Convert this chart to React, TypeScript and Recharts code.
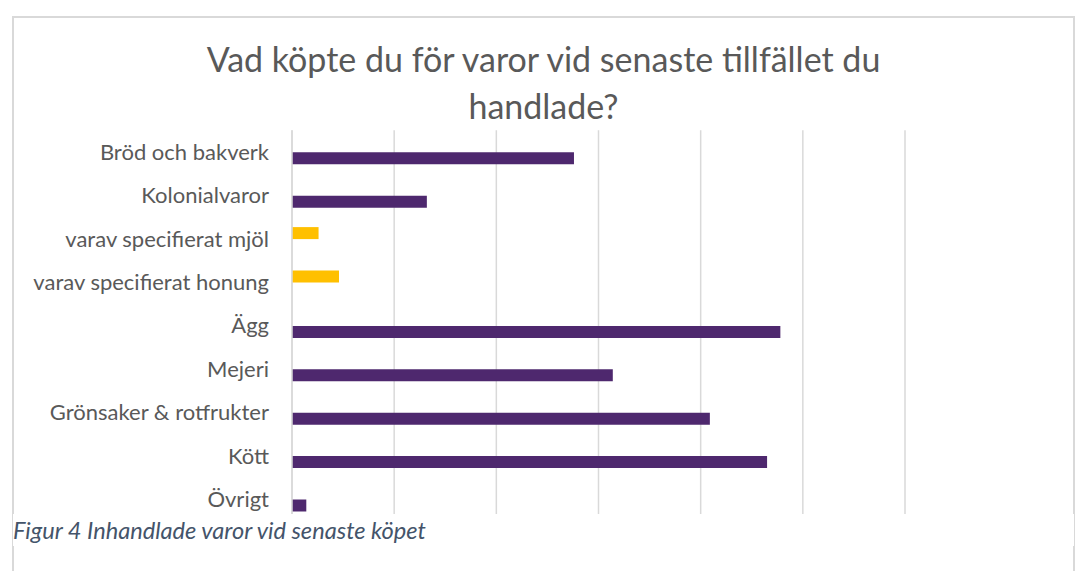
import React from 'react';
import { BarChart, Bar, XAxis, YAxis, CartesianGrid } from 'recharts';

const categories = [
  'Bröd och bakverk',
  'Kolonialvaror',
  'varav specifierat mjöl',
  'varav specifierat honung',
  'Ägg',
  'Mejeri',
  'Grönsaker & rotfrukter',
  'Kött',
  'Övrigt',
];
const mainValues: (number | null)[] = [27.6, 13.2, null, null, 47.8, 31.4, 40.9, 46.5, 1.4];
const subValues: (number | null)[] = [null, null, 2.6, 4.6, null, null, null, null, null];
const xTicks = [0, 10, 20, 30, 40, 50, 60];

const titleLine1 = 'Vad köpte du för varor vid senaste tillfället du';
const titleLine2 = 'handlade?';
const caption = 'Figur 4 Inhandlade varor vid senaste köpet';

const data = categories.map((name, i) => ({ name, main: mainValues[i], sub: subValues[i] }));

const FONT = 'Lato, "Open Sans", sans-serif';

export default function App() {
  return (
    <div
      style={{
        position: 'absolute',
        left: 0,
        top: 0,
        width: 1079,
        height: 571,
        background: '#fff',
        overflow: 'hidden',
        fontFamily: FONT,
      }}
    >
      <div
        style={{
          position: 'absolute',
          left: 12,
          top: 16,
          width: 1063,
          height: 620,
          boxSizing: 'border-box',
          borderTop: '2px solid #d9d9d9',
          borderLeft: '2px solid #d9d9d9',
          borderRight: '2px solid #d9d9d9',
        }}
      />
      <div style={{ position: 'absolute', left: 0, top: 0 }}>
        <BarChart
          layout="vertical"
          width={1079}
          height={571}
          data={data}
          margin={{ top: 130.3, right: 174, bottom: 50.1, left: 0 }}
          barGap={0}
        >
          <CartesianGrid horizontal={false} stroke="#d9d9d9" strokeWidth={1.5} />
          <XAxis type="number" domain={[0, 60]} ticks={xTicks} hide />
          <YAxis
            type="category"
            dataKey="name"
            width={292}
            axisLine={{ stroke: '#d9d9d9', strokeWidth: 1.5 }}
            tickLine={false}
            tickSize={0}
            tickMargin={23}
            interval={0}
            tick={{ fill: '#595959', fontSize: 22, fontFamily: FONT }}
          />
          <Bar dataKey="sub" fill="#FFC000" barSize={12} isAnimationActive={false} />
          <Bar dataKey="main" fill="#4E286E" barSize={12} isAnimationActive={false} />
        </BarChart>
      </div>
      <div
        style={{
          position: 'absolute',
          left: 0,
          width: 1079,
          top: 36,
          textAlign: 'center',
          paddingLeft: 8,
          boxSizing: 'border-box',
          fontSize: 34,
          lineHeight: '46.6px',
          color: '#595959',
          whiteSpace: 'nowrap',
        }}
      >
        {titleLine1}
        <br />
        {titleLine2}
      </div>
      <div
        style={{
          position: 'absolute',
          left: 13,
          top: 514,
          width: 1061,
          height: 32,
          background: '#fff',
          fontStyle: 'italic',
          fontSize: 23.6,
          lineHeight: '32px',
          color: '#44546A',
          whiteSpace: 'nowrap',
        }}
      >
        {caption}
      </div>
    </div>
  );
}
